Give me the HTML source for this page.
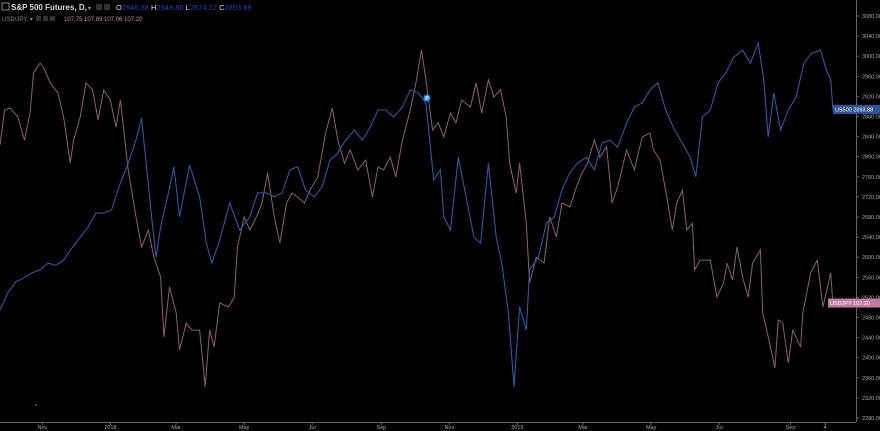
<!DOCTYPE html>
<html><head><meta charset="utf-8"><style>
html,body{margin:0;padding:0;background:#000;width:880px;height:431px;overflow:hidden}
svg{display:block;font-family:"Liberation Sans",sans-serif}
</style></head><body>
<svg id="chart" width="880" height="431" viewBox="0 0 880 431">
<rect x="0" y="0" width="880" height="431" fill="#000"/>
<g id="yaxis"></g>
<g id="xaxis"></g>
<g id="series"></g>
<g>
  <rect x="2" y="3" width="7" height="7" fill="none" stroke="#aaa" stroke-width="0.8"/>
  <text x="11" y="10" font-size="8" font-weight="bold" fill="#ddd">S&amp;P 500 Futures, D,</text>
  <text x="88" y="10" font-size="6" fill="#aaa">▾</text>
  <rect x="96" y="4" width="6" height="6" fill="#333"/>
  <rect x="104" y="4" width="6" height="6" fill="#333"/>
  <text x="116" y="10" font-size="7.5" fill="#ddd">O<tspan fill="#2962ff" fill-opacity="0.7">2946.38</tspan>  H<tspan fill="#2962ff" fill-opacity="0.7">2948.88</tspan>  L<tspan fill="#2962ff" fill-opacity="0.7">2874.12</tspan>  C<tspan fill="#2962ff" fill-opacity="0.7">2893.88</tspan></text>
  <text x="2" y="21" font-size="6" fill="#888">USD/JPY, ▾</text>
  <rect x="36" y="16" width="5" height="5" fill="#333"/>
  <rect x="43" y="16" width="5" height="5" fill="#333"/>
  <rect x="50" y="16" width="5" height="5" fill="#333"/>
  <text x="64" y="21" font-size="6" fill="#c88aa8">107.75   107.89   107.06   107.20</text>
</g>
</svg>
<script>
const yTicks=[3080,3040,3000,2960,2920,2880,2840,2800,2760,2720,2680,2640,2600,2560,2520,2480,2440,2400,2360,2320,2280];
const xTickLabels=["Nov","2018","Mar","May","Jul","Sep","Nov","2019","Mar","May","Jul","Sep","4"];
const xTickDays=[38,99,158,219,280,342,403,464,523,584,645,709,740];
const spDays=[0,7,14,22,29,36,43,50,57,65,72,79,86,93,100,108,115,122,127,129,136,140,144,151,156,161,170,179,185,190,197,206,215,224,231,239,246,253,260,267,274,282,289,296,303,310,318,325,332,339,346,353,361,368,375,382,386,389,395,398,404,411,418,425,431,438,445,450,456,461,466,472,475,483,490,497,504,511,518,526,533,540,547,554,562,569,576,583,590,597,605,612,619,624,630,637,644,651,658,666,673,680,685,689,694,700,707,714,721,728,736,741,745,747];
const spValues=[2495,2529,2551,2559,2569,2575,2588,2584,2594,2620,2640,2660,2688,2688,2694,2748,2787,2833,2877,2833,2680,2600,2660,2728,2780,2680,2783,2720,2628,2588,2634,2708,2654,2680,2728,2728,2720,2728,2774,2780,2734,2720,2740,2793,2807,2833,2853,2833,2859,2893,2893,2879,2899,2933,2927,2907,2819,2754,2774,2680,2654,2799,2720,2640,2628,2787,2640,2588,2489,2342,2501,2455,2575,2600,2668,2680,2734,2768,2787,2799,2774,2827,2833,2819,2867,2899,2907,2933,2947,2893,2853,2827,2799,2760,2879,2893,2947,2967,2998,3012,2986,3026,2953,2839,2927,2853,2893,2919,2986,3006,3012,2973,2953,2894];
const jpyDays=[0,4,9,16,22,27,30,36,39,45,52,57,63,66,72,77,83,88,93,99,104,108,115,122,127,133,138,144,147,152,158,161,167,172,179,184,188,192,197,205,210,213,219,224,230,235,240,246,251,257,262,267,273,278,285,292,298,303,309,314,321,328,334,339,344,350,355,361,368,373,378,382,388,393,398,404,409,414,422,427,432,438,443,449,454,457,463,466,472,475,481,488,493,499,504,511,517,522,527,533,538,544,549,554,562,569,576,583,586,592,598,603,607,612,616,621,623,628,637,643,649,652,657,661,666,671,675,682,684,691,695,698,702,707,711,718,720,727,733,738,745,747];
const jpyValues=[112.05,113.11,113.17,112.90,112.20,113.02,114.23,114.53,114.41,113.93,113.62,112.90,111.50,112.20,112.90,113.93,113.72,112.81,113.72,113.41,112.59,113.41,111.29,109.87,108.96,109.47,108.65,108.05,106.23,107.75,106.96,105.84,106.65,106.44,106.44,104.72,106.44,105.93,107.26,107.14,107.44,108.96,109.87,109.47,109.87,110.29,111.20,109.87,109.08,110.29,110.59,110.47,110.29,110.68,111.08,112.41,113.17,112.20,111.50,111.90,111.29,111.59,110.47,111.38,111.29,111.68,111.08,112.20,113.11,113.93,114.93,114.02,112.50,112.72,112.29,113.02,112.72,113.41,113.20,113.93,113.02,114.02,113.50,113.72,112.90,111.50,110.59,111.50,109.68,107.87,108.65,108.47,109.87,109.26,110.29,110.17,110.78,111.20,111.50,112.20,111.68,111.99,110.29,110.78,111.90,111.29,112.29,112.41,111.90,111.59,110.47,109.47,110.29,110.68,109.47,109.68,108.26,108.56,108.56,107.44,107.87,108.47,107.96,108.96,108.05,107.44,108.47,108.87,106.96,105.93,105.29,106.75,106.65,105.44,106.44,105.93,106.96,108.17,108.56,107.14,108.17,107.26];

const NS="http://www.w3.org/2000/svg";
function xScale(d){return d*1.115;}
function yScale(v){return 16+(3080-v)*0.5025;}
function yJpy(v){return 305-(v-107.2)*33;}
function mk(tag,attrs,parent){const e=document.createElementNS(NS,tag);for(const k in attrs)e.setAttribute(k,attrs[k]);parent.appendChild(e);return e;}

const ya=document.getElementById('yaxis');
let axl=mk('line',{x1:856.5,y1:0,x2:856.5,y2:422,stroke:'#666','stroke-width':1},ya);


yTicks.forEach(v=>{
  const y=yScale(v);
  const t=mk('line',{x1:856,y1:y,x2:859,y2:y,stroke:'#666'},ya);
  
  
  const l=mk('text',{x:862,y:y+2,'font-size':5.5,fill:'#aaa'},ya);
  l.textContent=v.toFixed(2);
  
  
});
const xa=document.getElementById('xaxis');
let bl=mk('line',{x1:0,y1:422.5,x2:856,y2:422.5,stroke:'#666','stroke-width':1},xa);


xTickLabels.forEach((s,i)=>{
  const x=xScale(xTickDays[i]);
  const t=mk('line',{x1:x,y1:422,x2:x,y2:425,stroke:'#666'},xa);
  
  
  const l=mk('text',{x:x,y:429,'font-size':5.5,fill:'#aaa','text-anchor':'middle'},xa);
  l.textContent=s;
  
  
});
const sg=document.getElementById('series');
const pj=mk('polyline',{points:jpyDays.map((d,i)=>xScale(d).toFixed(1)+','+yJpy(jpyValues[i]).toFixed(1)).join(' '),fill:'none',stroke:'#8c5e77','stroke-width':1},sg);


const ps=mk('polyline',{points:spDays.map((d,i)=>xScale(d).toFixed(1)+','+yScale(spValues[i]).toFixed(1)).join(' '),fill:'none',stroke:'#2c5aa8','stroke-width':1.1},sg);



const mkr=mk('circle',{cx:427,cy:98,r:3.5,fill:'#1e90ff'},sg);


const mt=mk('text',{x:427,y:100,'font-size':5,fill:'#fff','text-anchor':'middle','font-weight':'bold'},sg);
mt.textContent='P';


const dot=mk('circle',{cx:36,cy:405,r:0.8,fill:'#9a9'},sg);



const ySp=yScale(spValues[spValues.length-1]);
const b1=mk('rect',{x:833,y:ySp-4.5,width:47,height:9,fill:'#2a5599'},sg);


const b1t=mk('text',{x:835,y:ySp+2,'font-size':5.5,fill:'#fff'},sg);
b1t.textContent='US500   2893.88';


const yJ=yJpy(jpyValues[jpyValues.length-1]);
const b2=mk('rect',{x:828,y:yJ-4.5,width:52,height:9,fill:'#c17aa0'},sg);


const b2t=mk('text',{x:830,y:yJ+2,'font-size':5.5,fill:'#fff'},sg);
b2t.textContent='USDJPY    107.20';


</script>
</body></html>
